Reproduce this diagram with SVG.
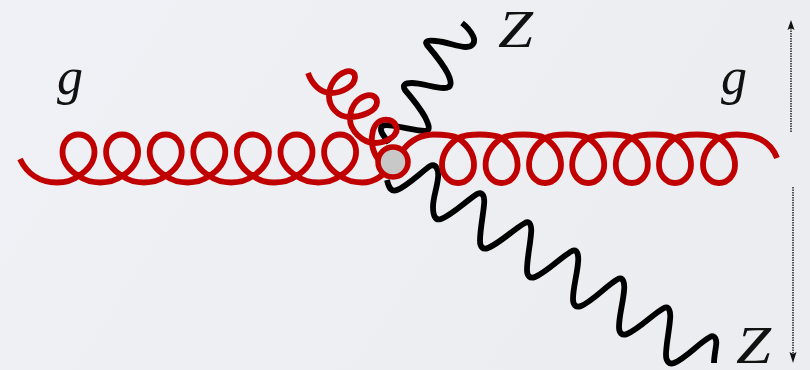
<svg xmlns="http://www.w3.org/2000/svg" width="810" height="370" viewBox="0 0 810 370">
<style>
.gluon{fill:none;stroke:#c00000;stroke-width:5.8;stroke-linecap:butt;stroke-linejoin:round}
.boson{fill:none;stroke:#000;stroke-width:5.8;stroke-linecap:butt;stroke-linejoin:round}
.lbl{font-family:"Liberation Serif","Times New Roman",serif;font-style:italic;fill:#111}
.dim{stroke:#555;stroke-width:2;stroke-dasharray:1.5 1;fill:none}
</style>
<defs>
<linearGradient id="bg" x1="0" y1="0" x2="1" y2="0.3">
<stop offset="0" stop-color="#f0f1f6"/><stop offset="1" stop-color="#ebedf0"/>
</linearGradient>
</defs>
<rect width="810" height="370" fill="url(#bg)"/>
<g id="connectors">
<path id="z-bottom" class="boson" d="M387,180C389,189 392,192 397,190C407,186 419,174 430,166C436,163 439,170 438,178C437,188 433,198 433,207C433,215 435,221 441,219C452,215 466,201 477,194C483,191 485,197 484,205C483,216 480,230 480,241C480,247 483,250 488,248C500,243 514,229 525,223C530,220 532,226 531,234C530,246 527,259 527,270C527,276 530,279 535,277C547,272 561,257 572,251C577,248 579,255 578,263C577,275 573,288 573,299C573,305 576,308 581,306C593,301 607,285 618,279C623,276 625,283 624,291C623,303 619,316 619,327C619,333 622,336 627,334C639,329 653,314 664,308C669,305 671,312 670,320C669,332 666,345 666,355C666,361 669,365 674,363C686,358 699,343 710,337C715,334 717,340 716,346C715,353 714,358 714,363"/>
<path id="z-top" class="boson" d="M389,143C385,137 380,133 381,128C382,124 388,125 395,126C406,128 417,131 425,131C431,131 429,125 425,117C420,108 411,97 405,90C402,85 405,83 412,83C422,83 434,88 444,88C452,88 452,83 448,74C443,64 433,52 427,45C424,41 428,40 436,41C447,42 458,47 466,47C473,47 476,42 473,36C470,30 466,26 462,23"/>
<path id="gluon-left" class="gluon" d="M20,159C27,174 40,182.500 57,182.500C65,182.500 72,181 78.500,176c11,-7 16,-14 16,-24c0,-10 -7,-17.500 -16,-17.500c-9,0 -16,7.500 -16,17.500c0,10 5,17 16,24c7,5 14,6.500 21.800,6.500c8,0 15,-1.500 21.800,-6.500c11,-7 16,-14 16,-24c0,-10 -7,-17.500 -16,-17.500c-9,0 -16,7.500 -16,17.500c0,10 5,17 16,24c7,5 14,6.500 21.800,6.500c8,0 15,-1.500 21.800,-6.500c11,-7 16,-14 16,-24c0,-10 -7,-17.500 -16,-17.500c-9,0 -16,7.500 -16,17.500c0,10 5,17 16,24c7,5 14,6.500 21.800,6.500c8,0 15,-1.500 21.800,-6.500c11,-7 16,-14 16,-24c0,-10 -7,-17.500 -16,-17.500c-9,0 -16,7.500 -16,17.500c0,10 5,17 16,24c7,5 14,6.500 21.800,6.500c8,0 15,-1.500 21.800,-6.500c11,-7 16,-14 16,-24c0,-10 -7,-17.500 -16,-17.500c-9,0 -16,7.500 -16,17.500c0,10 5,17 16,24c7,5 14,6.500 21.800,6.500c8,0 15,-1.500 21.800,-6.500c11,-7 16,-14 16,-24c0,-10 -7,-17.500 -16,-17.500c-9,0 -16,7.500 -16,17.500c0,10 5,17 16,24c7,5 14,6.500 21.800,6.500c8,0 15,-1.500 21.800,-6.500c11,-7 16,-14 16,-24c0,-10 -7,-17.500 -16,-17.500c-9,0 -16,7.500 -16,17.500c0,10 5,17 16,24c7,5 14,6.500 22,6.500c12,0 22,-6 30,-20"/>
<path id="gluon-right" class="gluon" d="M403,150C411,140 421,134.500 434,134.500C443,134.500 451,135 458,138c10,7 16,15 16,27c0,10 -7,18 -16,18c-9,0 -16,-8 -16,-18c0,-12 6,-20 16,-27c6,-3 14,-3.500 21.800,-3.500c8,0 15,.5 21.800,3.500c10,7 16,15 16,27c0,10 -7,18 -16,18c-9,0 -16,-8 -16,-18c0,-12 6,-20 16,-27c6,-3 14,-3.500 21.700,-3.500c8,0 15,.5 21.700,3.500c10,7 16,15 16,27c0,10 -7,18 -16,18c-9,0 -16,-8 -16,-18c0,-12 6,-20 16,-27c6,-3 14,-3.500 21.600,-3.500c8,0 15,.5 21.600,3.500c10,7 16,15 16,27c0,10 -7,18 -16,18c-9,0 -16,-8 -16,-18c0,-12 6,-20 16,-27c6,-3 14,-3.500 21.800,-3.500c8,0 15,.5 21.800,3.500c10,7 16,15 16,27c0,10 -7,18 -16,18c-9,0 -16,-8 -16,-18c0,-12 6,-20 16,-27c6,-3 14,-3.500 21.600,-3.500c8,0 15,.5 21.600,3.500c10,7 16,15 16,27c0,10 -7,18 -16,18c-9,0 -16,-8 -16,-18c0,-12 6,-20 16,-27c6,-3 14,-3.500 22,-3.500c8,0 15,.5 22,3.500c10,7 16,15 16,27c0,10 -7,18 -16,18c-9,0 -16,-8 -16,-18c0,-12 6,-20 16,-27c6,-3 11,-3.500 18,-3.500C757,134.500 771,142 777,158"/>
<path id="gluon-small" class="gluon" d="M308,73C312,84 320,93 331,93C342,93 355,86 355,77C355,72 350,70 345,72C336,75 329,85 329,96C329,107 338,117 349,117C360,117 377,112 377,102C377,96 371,94 365,96C356,99 350,108 350,119C350,130 362,143 375,143C386,143 400,135 396,126C394,120 386,118 380,121C373,125 371,135 372,144C373,151 375,155 378,159"/>
<path class="dim" d="M791,132V28"/>
<path d="M791,20L794.500,30L791,28L787.500,30Z" fill="#111"/>
<path class="dim" d="M793,187V354"/>
<path d="M793,363L789.500,352L793,354L796.500,352Z" fill="#111"/>
</g>
<g id="vertex"><circle cx="393" cy="162" r="15" fill="#c8c8c8" stroke="#c00000" stroke-width="5.5"/></g>
<g id="label-g-left"><text class="lbl" x="57" y="94" font-size="52">g</text></g>
<g id="label-g-right"><text class="lbl" x="721" y="94" font-size="52">g</text></g>
<g id="label-z-top"><text class="lbl" x="498" y="47" font-size="52" textLength="35" lengthAdjust="spacingAndGlyphs">Z</text></g>
<g id="label-z-bottom"><text class="lbl" x="736" y="363" font-size="52" textLength="35" lengthAdjust="spacingAndGlyphs">Z</text></g>
</svg>
